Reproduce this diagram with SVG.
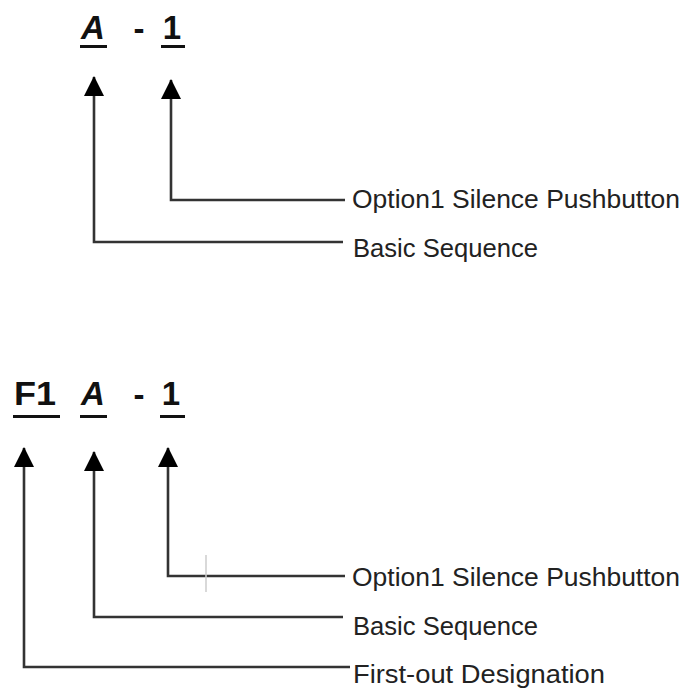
<svg xmlns="http://www.w3.org/2000/svg" width="689" height="694" viewBox="0 0 689 694">
  <style>
    .head { font-family: "Liberation Sans", Arial, sans-serif; font-weight: bold; font-size: 33px; fill: #111; text-anchor: middle; }
    .it { font-style: italic; }
    .lbl { font-family: "Liberation Sans", Arial, sans-serif; font-size: 25px; fill: #222; }
    .ul { fill: #111; }
    .conn { fill: none; stroke: #333; stroke-width: 2.6; }
  </style>
  <defs>
    <marker id="arrow" viewBox="0 0 20 20" refX="19" refY="10" markerWidth="20" markerHeight="20" markerUnits="userSpaceOnUse" orient="auto">
      <path d="M0,0 L20,10 L0,20 z" fill="#000"/>
    </marker>
  </defs>
  <rect width="689" height="694" fill="#fff"/>

  <!-- Top code: A - 1 -->
  <g id="top-A">
    <text class="head it" x="93" y="39">A</text>
    <rect class="ul" x="80" y="45" width="27" height="3"/>
  </g>
  <g id="top-dash">
    <text class="head" x="139" y="40">-</text>
  </g>
  <g id="top-1">
    <text class="head" x="172" y="39">1</text>
    <rect class="ul" x="161" y="45" width="24" height="3"/>
  </g>
  <g id="top-label-option">
    <text class="lbl" x="352" y="208" textLength="328" lengthAdjust="spacingAndGlyphs">Option1 Silence Pushbutton</text>
  </g>
  <g id="top-label-basic">
    <text class="lbl" x="353" y="257" textLength="185" lengthAdjust="spacingAndGlyphs">Basic Sequence</text>
  </g>

  <!-- Bottom code: F1 A - 1 -->
  <g id="bot-F1">
    <text class="head" x="35" y="405" textLength="42" lengthAdjust="spacingAndGlyphs">F1</text>
    <rect class="ul" x="13" y="415" width="47" height="3"/>
  </g>
  <g id="bot-A">
    <text class="head it" x="93" y="405">A</text>
    <rect class="ul" x="80" y="415" width="27" height="3"/>
  </g>
  <g id="bot-dash">
    <text class="head" x="139" y="406">-</text>
  </g>
  <g id="bot-1">
    <text class="head" x="171" y="405">1</text>
    <rect class="ul" x="160" y="415" width="25" height="3"/>
  </g>
  <g id="bot-label-option">
    <text class="lbl" x="352" y="586" textLength="328" lengthAdjust="spacingAndGlyphs">Option1 Silence Pushbutton</text>
  </g>
  <g id="bot-label-basic">
    <text class="lbl" x="353" y="635" textLength="185" lengthAdjust="spacingAndGlyphs">Basic Sequence</text>
  </g>
  <g id="bot-label-firstout">
    <text class="lbl" x="353" y="683" textLength="252" lengthAdjust="spacingAndGlyphs">First-out Designation</text>
  </g>

  <g id="connectors">
    <path class="conn" d="M345 200 H171 V80" marker-end="url(#arrow)"/>
    <path class="conn" d="M343 242 H94 V77" marker-end="url(#arrow)"/>
    <path class="conn" d="M345 576 H168 V448" marker-end="url(#arrow)"/>
    <path class="conn" d="M343 617 H94 V452" marker-end="url(#arrow)"/>
    <path class="conn" d="M350 667 H24 V448" marker-end="url(#arrow)"/>
    <line x1="206" y1="555" x2="206" y2="592" stroke="#ccc" stroke-width="1.5"/>
  </g>
</svg>
